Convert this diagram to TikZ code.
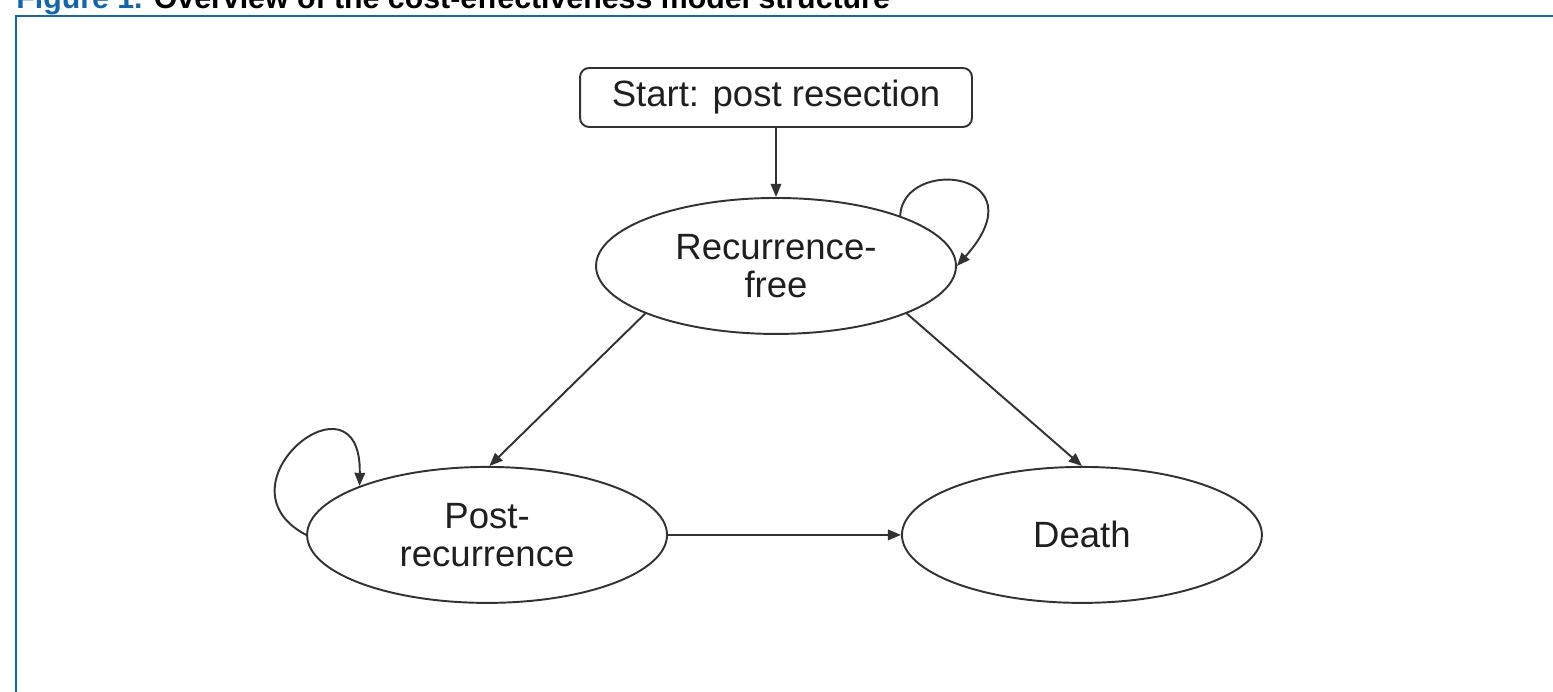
\documentclass[tikz,border=0pt]{standalone}
\usepackage{fontspec}
\setmainfont{Liberation Sans}
\usepackage{xcolor}
\usetikzlibrary{shapes.geometric}
\usetikzlibrary{positioning}
\usetikzlibrary{arrows.meta,calc}
\definecolor{figblue}{RGB}{20,102,168}
\definecolor{linegray}{RGB}{50,50,50}

\begin{document}
\begin{tikzpicture}[
x=0.02cm, y=0.02cm,
font=\fontsize{20.8pt}{21.5pt}\selectfont,
state/.style = {
  ellipse,
  draw=linegray,
  line width=1.1pt,
  minimum width=7.2cm,
  minimum height=2.72cm,
  inner sep=0pt,
  align=center,
  text=black!88},
startbox/.style = {
  rectangle,
  rounded corners=0.18cm,
  draw=linegray,
  line width=1.1pt,
  minimum width=7.84cm,
  minimum height=1.18cm,
  inner sep=0pt,
  text=black!88},
line/.style = {draw=linegray, line width=1.1pt, -{Triangle[length=7.5pt,width=6pt]}},
frame/.style = {draw=figblue, line width=1.4pt},
]
\useasboundingbox (0,0) rectangle (1553,-692);
\draw[frame] (16,-692) |- (1553,-16);
\node[anchor=base west, inner sep=0pt, font=\fontsize{17.25pt}{20pt}\selectfont\bfseries] (title) at (16,-9) {\textcolor{figblue}{Figure 1.} Overview of the cost-effectiveness model structure};

\node[startbox] (start) at (776,-97.5) {Start: post resection};
\node[state, below of = start, node distance=3.37cm] (rf) {Recurrence-\\free};
\node[state, below of = rf, node distance=5.38cm, xshift=-5.78cm] (pr) {Post-\\recurrence};
\node[state, right of = pr, node distance=11.9cm] (death) {Death};

\begin{scope}[every path/.style=line]
\path (start) -- (rf);
\path (rf.200) -- (pr.88);
\path (rf.-20) -- (death.north);
\path (pr) -- (death);
\path (rf.22) .. controls +(3,60) and +(85,95) .. (rf.east);
\path (pr.west) .. controls +(-95,50) and +(2,122) .. (pr.159);
\end{scope}
\end{tikzpicture}
\end{document}
